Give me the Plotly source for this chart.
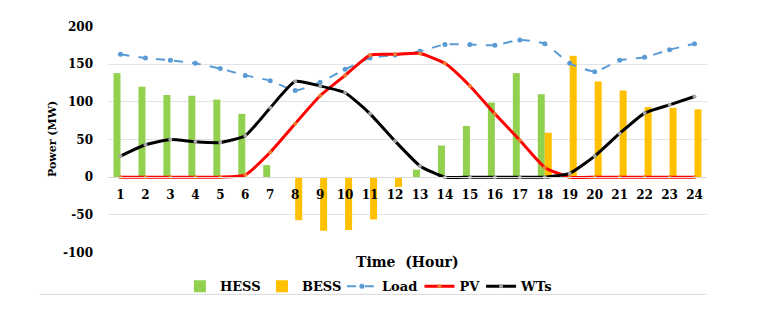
import plotly.graph_objects as go

hours = list(range(1, 25))
hess = [138, 120, 109, 108, 103, 84, 16, 0, 0, 0, 0, 0, 10, 42, 68, 99, 138, 110, 0, 0, 0, 0, 0, 0]
bess = [0, 0, 0, 0, 0, 0, 0, -57, -71, -70, -56, -13, 0, 0, 0, 0, 0, 59, 161, 127, 115, 93, 92, 90]
load = [163, 158, 155, 151, 144, 135, 128, 115, 126, 143, 158, 162, 167, 176, 176, 175, 182, 177, 151, 140, 155, 159, 169, 177]
pv = [0, 0, 0, 0, 0, 3, 33, 71, 108, 135, 162, 163, 164, 151, 121, 84, 49, 13, 0, 0, 0, 0, 0, 0]
wts = [28, 43, 50, 47, 46, 55, 92, 127, 121, 112, 84, 48, 15, 0, 0, 0, 0, 0, 5, 28, 58, 85, 96, 107]
y_ticks = [-100, -50, 0, 50, 100, 150, 200]

FONT = "DejaVu Serif"

fig = go.Figure()
fig.add_trace(go.Bar(x=hours, y=hess, name="HESS", marker_color="#92D050", marker_line_width=0,
                     legend="legend"))
fig.add_trace(go.Bar(x=hours, y=bess, name="BESS", marker_color="#FFC000", marker_line_width=0,
                     legend="legend2"))
fig.add_trace(go.Scatter(x=hours, y=load, name="Load", mode="lines+markers",
                         line=dict(color="#5B9BD5", width=2, dash="dash", shape="spline", smoothing=0.5),
                         marker=dict(color="#5B9BD5", size=5), legend="legend3"))
fig.add_trace(go.Scatter(x=hours, y=pv, name="PV", mode="lines+markers",
                         line=dict(color="#FF0000", width=3, shape="spline", smoothing=0.5),
                         marker=dict(color="#ED7D31", size=4), legend="legend4"))
fig.add_trace(go.Scatter(x=hours, y=wts, name="WTs", mode="lines+markers",
                         line=dict(color="#000000", width=3, shape="spline", smoothing=0.5),
                         marker=dict(color="#A5A5A5", size=4), legend="legend5"))

leg_font = dict(family=FONT, size=13, color="black", weight="bold")
def leg(x):
    return dict(orientation="h", x=x, xanchor="left", y=-0.147, yanchor="middle",
                font=leg_font, itemwidth=30, bgcolor="rgba(0,0,0,0)")

fig.update_layout(
    width=763, height=316,
    margin=dict(l=99.5, r=63.5, t=17.5, b=70.5),
    paper_bgcolor="white", plot_bgcolor="white",
    barmode="group", bargap=0.44, bargroupgap=0,
    font=dict(family=FONT, size=12, color="black"),
    showlegend=True,
    legend=leg(0.12), legend2=leg(0.257), legend3=leg(0.3905),
    legend4=leg(0.52), legend5=leg(0.6228),
    xaxis=dict(range=[0.5, 24.5], tickmode="array", tickvals=hours, ticktext=[str(h) for h in hours],
               anchor="free", position=100.5 / 301, showgrid=False, zeroline=False,
               showline=True, linecolor="#D9D9D9", linewidth=1, ticks="",
               ticklabelstandoff=6,
               tickfont=dict(family=FONT, size=12, color="black", weight="bold")),
    yaxis=dict(range=[-100.5, 200.5], tickmode="array", tickvals=y_ticks,
               ticktext=[str(v) for v in y_ticks],
               showgrid=True, gridcolor="#E3E3E3", gridwidth=1, zeroline=False,
               showline=False, ticks="", ticklabelstandoff=14,
               tickfont=dict(family=FONT, size=12, color="black", weight="bold")),
    annotations=[
        dict(text="Time  (Hour)", xref="paper", yref="paper", x=0.5, y=(253.5 - 263) / 228,
             xanchor="center", yanchor="middle", showarrow=False,
             font=dict(family=FONT, size=14, color="black", weight="bold")),
        dict(text="Power (MW)", xref="paper", yref="paper", x=(52 - 107.5) / 600, y=0.5,
             xanchor="center", yanchor="middle", showarrow=False, textangle=-90,
             font=dict(family=FONT, size=11, color="black", weight="bold")),
    ],
    shapes=[dict(type="line", xref="paper", yref="paper", x0=-0.114, x1=1.0,
                 y0=(253.5 - 295) / 228, y1=(253.5 - 295) / 228,
                 line=dict(color="#D9D9D9", width=1))],
)

fig.write_html("out.html")
